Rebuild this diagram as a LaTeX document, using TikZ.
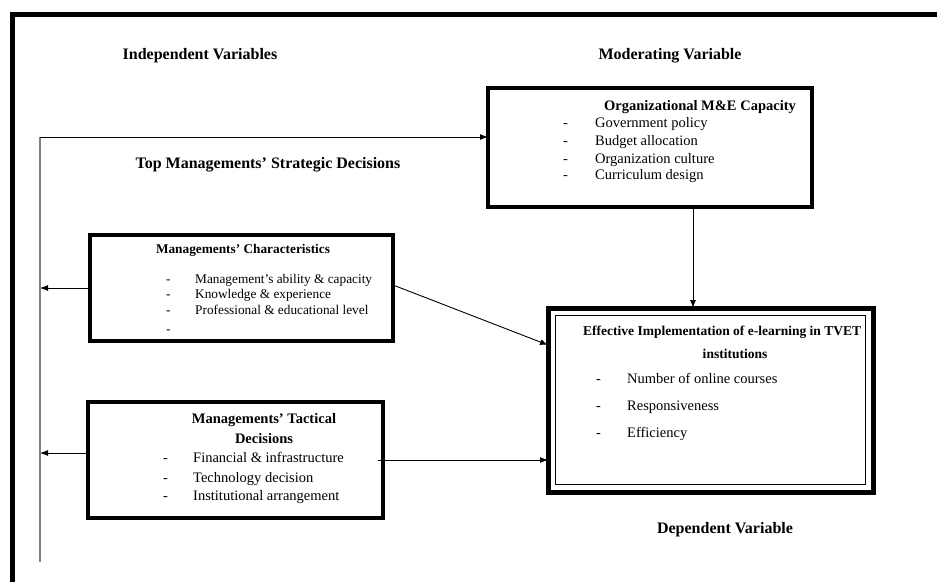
\documentclass[tikz,border=0pt]{standalone}
\usepackage{fontspec}
\setmainfont{Liberation Serif}
\usetikzlibrary{arrows.meta}
\tikzset{
  boxA/.style={draw=black, line width=3.5pt, fill=none, inner sep=0pt, outer sep=0pt},
  hdr/.style={font=\fontsize{16}{18}\selectfont\bfseries, anchor=base, inner sep=0pt},
  ttl/.style={font=\fontsize{14.5}{17}\selectfont\bfseries, anchor=base, inner sep=0pt},
  itm/.style={font=\fontsize{14.5}{17}\selectfont, anchor=base west, inner sep=0pt},
  itms/.style={font=\fontsize{13.3}{15}\selectfont, anchor=base west, inner sep=0pt},
  conn/.style={line width=0.9pt, -{Latex[length=8pt,width=6pt]}},
}
\begin{document}
\begin{tikzpicture}[x=1pt,y=-1pt]
\useasboundingbox (0,0) rectangle (937,582);
% outer frame (top and left)
\draw[line width=5pt] (12.5,582) -- (12.5,14) -- (937,14);

% headers
\node[hdr] (indep) at (200,59) {Independent Variables};
\node[hdr] (moder) at (670,59) {Moderating Variable};
\node[hdr] (topm) at (268,168) {Top Managements’ Strategic Decisions};
\node[hdr] (dep) at (725,533) {Dependent Variable};

% Organizational M&E Capacity box
\node[boxA, minimum width=324pt, minimum height=119pt] (org) at (650,147.5) {};
\node[ttl] (orgt) at (700,110) {Organizational M\&E Capacity};
\node[itm] (od1) at (563,127) {-};
\node[itm] (oi1) at (595,127) {Government policy};
\node[itm] (od2) at (563,145) {-};
\node[itm] (oi2) at (595,145) {Budget allocation};
\node[itm] (od3) at (563,163) {-};
\node[itm] (oi3) at (595,163) {Organization culture};
\node[itm] (od4) at (563,179) {-};
\node[itm] (oi4) at (595,179) {Curriculum design};

% Managements' Characteristics box
\node[boxA, minimum width=303pt, minimum height=106pt] (char) at (241.5,288) {};
\node[ttl, font=\fontsize{13.3}{15}\selectfont\bfseries] (chart) at (243,253) {Managements’ Characteristics};
\node[itms] (cd1) at (166,283) {-};
\node[itms] (ci1) at (195,283) {Management’s ability \& capacity};
\node[itms] (cd2) at (166,298) {-};
\node[itms] (ci2) at (195,298) {Knowledge \& experience};
\node[itms] (cd3) at (166,314) {-};
\node[itms] (ci3) at (195,314) {Professional \& educational level};
\node[itms] (cd4) at (166,333) {-};

% Managements' Tactical Decisions box
\node[boxA, line width=4pt, minimum width=295pt, minimum height=116pt] (tact) at (235.5,460) {};
\node[ttl] (tactt1) at (264,423) {Managements’ Tactical};
\node[ttl] (tactt2) at (264,443) {Decisions};
\node[itm] (td1) at (163,462) {-};
\node[itm] (ti1) at (193,462) {Financial \& infrastructure};
\node[itm] (td2) at (163,482) {-};
\node[itm] (ti2) at (193,482) {Technology decision};
\node[itm] (td3) at (163,500) {-};
\node[itm] (ti3) at (193,500) {Institutional arrangement};

% Effective Implementation box (double border)
\node[draw=black, line width=5pt, inner sep=0pt, outer sep=0pt, minimum width=325pt, minimum height=184pt] (ebox) at (710.5,400) {};
\node[draw=black, line width=1pt, inner sep=0pt, minimum width=310pt, minimum height=169pt] (eboxin) at (710.5,400) {};
\node[ttl, anchor=base west, font=\fontsize{13.5}{16}\selectfont\bfseries] (et1) at (583,335) {Effective Implementation of e-learning in TVET};
\node[ttl, font=\fontsize{13.5}{16}\selectfont\bfseries] (et2) at (735,358) {institutions};
\node[itm] (ed1) at (596,383) {-};
\node[itm] (ei1) at (627,383) {Number of online courses};
\node[itm] (ed2) at (596,410) {-};
\node[itm] (ei2) at (627,410) {Responsiveness};
\node[itm] (ed3) at (596,437) {-};
\node[itm] (ei3) at (627,437) {Efficiency};

% left collector line
\coordinate (tl) at (40,137);
\coordinate (bl) at (40,562);
\draw[gray, line width=1.2pt] (tl) -- (bl);

% connectors
\draw[conn] (tl) -- (tl -| org.west);
\draw[conn] (char.west) -- (char.west -| tl);
\draw[conn] ([yshift=7pt]tact.west) -- ([yshift=7pt]tact.west -| tl);
\draw[conn] ([yshift=3pt]char.east) -- ([yshift=55pt]ebox.west);
\draw[conn] ([xshift=-5pt]tact.east) -- (tact.east -| ebox.west);
\draw[conn] ([xshift=43pt]org.south) -- ([xshift=43pt]org.south |- ebox.north);
\end{tikzpicture}
\end{document}
